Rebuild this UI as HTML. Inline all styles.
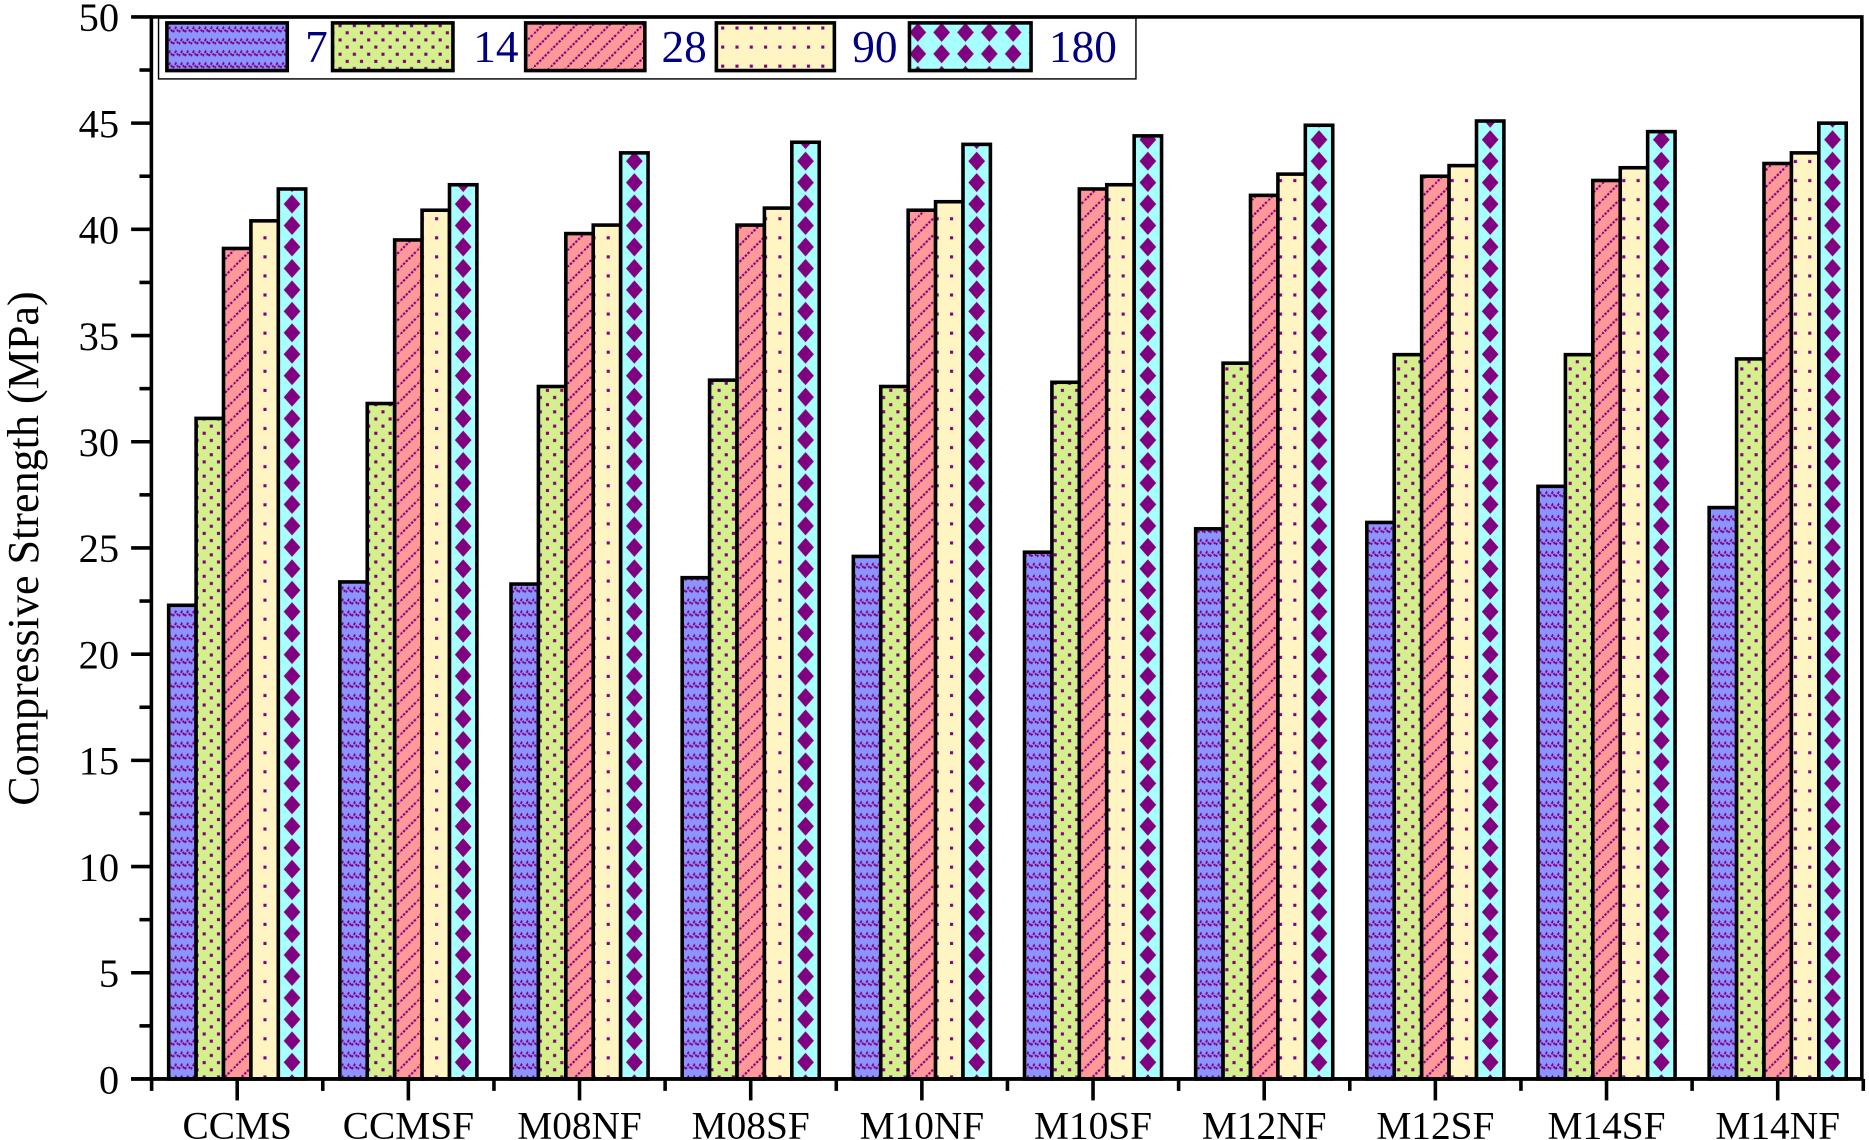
<!DOCTYPE html>
<html><head><meta charset="utf-8"><style>
html,body{margin:0;padding:0;background:#fff;}
svg{display:block;}
</style></head><body>
<svg id="c" xmlns="http://www.w3.org/2000/svg" width="1869" height="1140" viewBox="0 0 1568 956">
<defs id="d">
<pattern id="p0" width="10" height="10" patternUnits="userSpaceOnUse"><rect width="10" height="10" fill="#8c94ff"/><path d="M0 7 L2.5 3 L5 7 L7.5 3 L10 7" stroke="#800080" stroke-width="1.6" fill="none" stroke-dasharray="2 1.2"/></pattern>
<pattern id="p1" width="12" height="12" patternUnits="userSpaceOnUse"><rect width="12" height="12" fill="#d4f08c"/><rect x="2" y="2" width="2.6" height="2.6" fill="#800080"/><rect x="8" y="8" width="2.6" height="2.6" fill="#800080"/></pattern>
<pattern id="p2" width="14" height="14" patternUnits="userSpaceOnUse"><rect width="14" height="14" fill="#ff9898"/><path d="M0 14 L14 0" stroke="#800080" stroke-width="1.8" stroke-dasharray="2 1.2"/></pattern>
<pattern id="p3" width="12" height="16" patternUnits="userSpaceOnUse"><rect width="12" height="16" fill="#fff5c2"/><rect x="5" y="6" width="2.6" height="2.6" fill="#800080"/></pattern>
<pattern id="p4" width="20" height="18" patternUnits="userSpaceOnUse"><rect width="20" height="18" fill="#a8ffff"/><path d="M10 1 L17 9 L10 17 L3 9Z" fill="#800080"/></pattern>
</defs>
<g id="g"></g>
</svg>
<script>
var g=document.getElementById('g'),d=document.getElementById('d'),s='',ps='';
var Y0=905,Y1=14,L=127,R=1562;
function y(v){return Y0-(Y0-Y1)*v/50;}
var data=[[22.3,31.1,39.1,40.4,41.9],[23.4,31.8,39.5,40.9,42.1],[23.3,32.6,39.8,40.2,43.6],[23.6,32.9,40.2,41.0,44.1],[24.6,32.6,40.9,41.3,44.0],[24.8,32.8,41.9,42.1,44.4],[25.9,33.7,41.6,42.6,44.9],[26.2,34.1,42.5,43.0,45.1],[27.9,34.1,42.3,42.9,44.6],[26.9,33.9,43.1,43.6,45.0]];
var names=['CCMS','CCMSF','M08NF','M08SF','M10NF','M10SF','M12NF','M12SF','M14SF','M14NF'];
var sp=143.6,c0=199,bw=23;
function dia(id,x){return '<pattern id="'+id+'" x="'+x+'" y="0" width="'+bw+'" height="18" patternUnits="userSpaceOnUse"><rect width="'+bw+'" height="18" fill="#a8ffff"/><path d="M'+(bw/2)+' 1 L'+(bw/2+7)+' 9 L'+(bw/2)+' 17 L'+(bw/2-7)+' 9Z" fill="#800080"/></pattern>';}
for(var i=0;i<10;i++){var c=c0+i*sp;
 for(var j=0;j<5;j++){var x=c-2.5*bw+j*bw,t=y(data[i][j]),f='url(#p'+j+')';
  if(j==4){ps+=dia('q'+i,x);f='url(#q'+i+')';}
  s+='<rect x="'+x+'" y="'+t+'" width="'+bw+'" height="'+(Y0-t)+'" fill="'+f+'" stroke="#000" stroke-width="3"/>';}
 s+='<line x1="'+c+'" y1="'+Y0+'" x2="'+c+'" y2="'+(Y0+18)+'" stroke="#000" stroke-width="3"/>';
 s+='<line x1="'+(c-sp/2)+'" y1="'+Y0+'" x2="'+(c-sp/2)+'" y2="'+(Y0+10)+'" stroke="#000" stroke-width="3"/>';
 s+='<text x="'+c+'" y="955" font-size="33" text-anchor="middle" font-family="Liberation Serif,serif">'+names[i]+'</text>';}
ps+=dia('qL',763+(102-bw)/2);
d.insertAdjacentHTML('beforeend',ps);
s+='<line x1="'+(c0+9.5*sp)+'" y1="'+Y0+'" x2="'+(c0+9.5*sp)+'" y2="'+(Y0+10)+'" stroke="#000" stroke-width="3"/>';
for(var v=0;v<=50;v+=2.5){var yy=y(v),maj=v%5==0;
 s+='<line x1="'+(maj?110:117)+'" y1="'+yy+'" x2="'+L+'" y2="'+yy+'" stroke="#000" stroke-width="3"/>';
 if(maj)s+='<text x="100" y="'+(yy+12)+'" font-size="34" text-anchor="end" font-family="Liberation Serif,serif">'+v+'</text>';}
s+='<rect x="'+L+'" y="'+Y1+'" width="'+(R-L)+'" height="'+(Y0-Y1)+'" fill="none" stroke="#000" stroke-width="3"/>';
s+='<line x1="110" y1="'+Y0+'" x2="'+R+'" y2="'+Y0+'" stroke="#000" stroke-width="3"/>';
s+='<text transform="translate(32,460) rotate(-90)" font-size="37" text-anchor="middle" font-family="Liberation Serif,serif">Compressive Strength (MPa)</text>';
s+='<rect x="133" y="15" width="820" height="51" fill="#fff" stroke="#000" stroke-width="1.2"/>';
var sw=[[140,241],[279,380],[441,541],[601,700],[763,865]],lb=['7','14','28','90','180'],lx=[256,397,555,715,880];
for(var k=0;k<5;k++){s+='<rect x="'+sw[k][0]+'" y="19" width="'+(sw[k][1]-sw[k][0])+'" height="40" fill="'+(k==4?'url(#p4)':'url(#p'+k+')')+'" stroke="#000" stroke-width="3"/>';
 s+='<text x="'+lx[k]+'" y="52" font-size="38" fill="#00007f" font-family="Liberation Serif,serif">'+lb[k]+'</text>';}
g.innerHTML=s;
</script>
</body></html>
